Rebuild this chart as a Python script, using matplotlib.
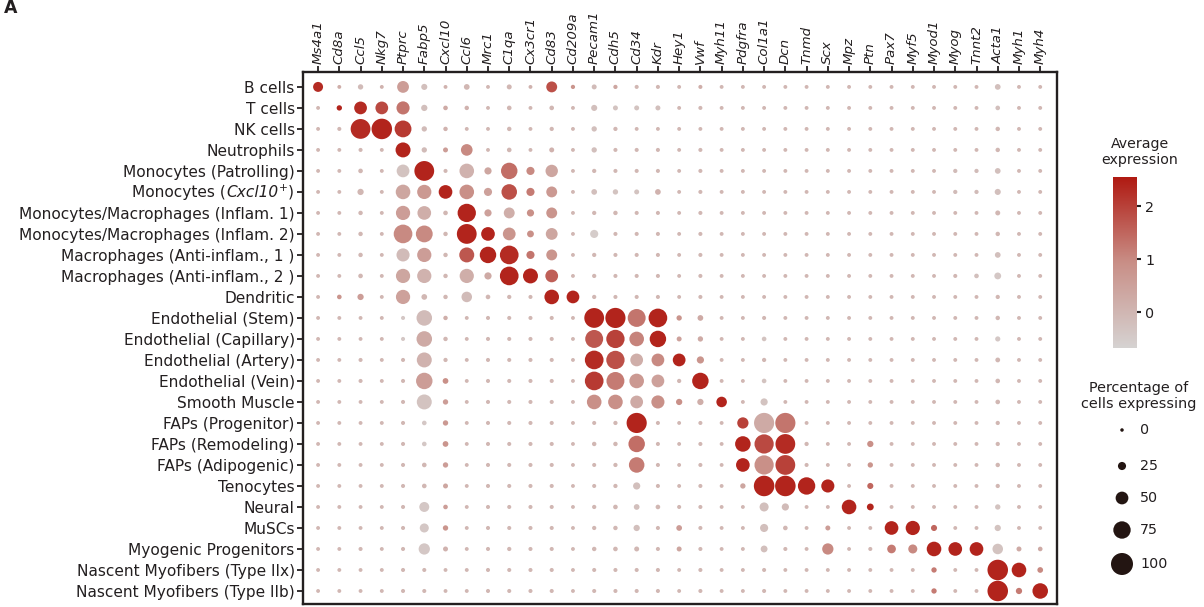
import numpy as np
import matplotlib
matplotlib.use("Agg")
import matplotlib.pyplot as plt
from matplotlib.colors import LinearSegmentedColormap, Normalize
from matplotlib.offsetbox import TextArea, HPacker, AnnotationBbox

plt.rcParams["font.family"] = ["DejaVu Sans"]
plt.rcParams["mathtext.fontset"] = "dejavusans"

genes = ["Ms4a1", "Cd8a", "Ccl5", "Nkg7", "Ptprc", "Fabp5", "Cxcl10", "Ccl6", "Mrc1",
         "C1qa", "Cx3cr1", "Cd83", "Cd209a", "Pecam1", "Cdh5", "Cd34", "Kdr", "Hey1",
         "Vwf", "Myh11", "Pdgfra", "Col1a1", "Dcn", "Tnmd", "Scx", "Mpz", "Ptn", "Pax7",
         "Myf5", "Myod1", "Myog", "Tnnt2", "Acta1", "Myh1", "Myh4"]

# the Cxcl10+ monocyte label is assembled from pieces (italic gene name, superscript +)
cell_types = ["B cells", "T cells", "NK cells", "Neutrophils", "Monocytes (Patrolling)",
              ("Monocytes (", "Cxcl10", "$^{+}$)"),
              "Monocytes/Macrophages (Inflam. 1)", "Monocytes/Macrophages (Inflam. 2)",
              "Macrophages (Anti-inflam., 1 )", "Macrophages (Anti-inflam., 2 )",
              "Dendritic", "Endothelial (Stem)", "Endothelial (Capillary)",
              "Endothelial (Artery)", "Endothelial (Vein)", "Smooth Muscle",
              "FAPs (Progenitor)", "FAPs (Remodeling)", "FAPs (Adipogenic)", "Tenocytes",
              "Neural", "MuSCs", "Myogenic Progenitors", "Nascent Myofibers (Type IIx)",
              "Nascent Myofibers (Type IIb)"]

# Percentage of cells expressing each gene (rows: cell types, columns: genes)
pct_expressing = [
    [35, 2, 10, 2, 45, 14, 2, 12, 2, 8, 2, 40, 4, 8, 4, 3, 3, 2, 3, 2, 2, 2, 2, 2, 2, 2, 2, 2, 2, 2, 2, 2, 12, 2, 2],
    [2, 10, 50, 50, 52, 15, 6, 5, 2, 6, 2, 6, 2, 14, 8, 8, 8, 2, 3, 2, 2, 2, 2, 2, 2, 2, 2, 2, 2, 2, 2, 2, 6, 2, 2],
    [2, 3, 88, 92, 72, 10, 5, 2, 2, 5, 2, 4, 2, 10, 4, 2, 2, 2, 2, 2, 2, 2, 2, 2, 2, 2, 2, 2, 2, 2, 2, 2, 5, 2, 2],
    [2, 2, 3, 2, 62, 10, 8, 44, 2, 6, 2, 8, 2, 10, 3, 3, 3, 2, 3, 2, 2, 2, 2, 2, 2, 2, 2, 2, 2, 2, 2, 2, 5, 2, 2],
    [2, 2, 6, 2, 50, 88, 3, 60, 20, 70, 25, 48, 2, 4, 3, 3, 3, 2, 3, 2, 2, 2, 2, 2, 2, 2, 2, 2, 2, 2, 4, 4, 12, 2, 2],
    [2, 2, 15, 2, 60, 58, 55, 60, 25, 65, 25, 40, 2, 12, 10, 8, 12, 2, 3, 2, 2, 2, 2, 2, 2, 2, 2, 2, 2, 2, 4, 4, 14, 2, 2],
    [2, 2, 5, 2, 58, 55, 6, 80, 20, 40, 20, 40, 2, 4, 5, 3, 3, 2, 3, 2, 2, 2, 2, 2, 2, 2, 2, 2, 2, 2, 2, 2, 8, 2, 2],
    [2, 2, 5, 2, 82, 72, 5, 88, 55, 50, 18, 45, 2, 25, 3, 3, 3, 2, 3, 2, 2, 2, 2, 2, 2, 2, 2, 2, 2, 2, 2, 2, 5, 2, 2],
    [2, 2, 5, 2, 52, 58, 5, 62, 70, 82, 25, 40, 2, 4, 3, 3, 3, 2, 3, 2, 2, 2, 2, 2, 2, 2, 2, 2, 2, 2, 2, 2, 12, 2, 2],
    [2, 2, 6, 2, 58, 58, 5, 58, 20, 82, 62, 50, 2, 4, 3, 3, 3, 2, 3, 2, 2, 2, 2, 2, 2, 2, 2, 2, 2, 2, 3, 6, 18, 2, 2],
    [2, 6, 15, 2, 58, 12, 5, 38, 6, 4, 3, 60, 50, 4, 3, 3, 3, 2, 3, 2, 2, 2, 2, 2, 2, 2, 2, 2, 2, 2, 2, 2, 4, 2, 2],
    [2, 2, 2, 2, 3, 65, 5, 2, 3, 3, 3, 3, 2, 88, 90, 78, 82, 10, 12, 2, 2, 3, 2, 2, 2, 2, 2, 2, 2, 2, 2, 2, 5, 2, 2],
    [2, 2, 2, 2, 3, 65, 5, 2, 3, 3, 3, 3, 2, 78, 80, 60, 70, 8, 10, 2, 2, 6, 2, 2, 2, 2, 2, 2, 2, 2, 2, 2, 9, 2, 2],
    [2, 2, 3, 2, 3, 62, 4, 2, 3, 3, 3, 3, 2, 82, 80, 50, 50, 50, 20, 2, 2, 4, 2, 2, 2, 2, 2, 2, 2, 2, 2, 2, 7, 2, 2],
    [2, 2, 3, 2, 3, 70, 12, 2, 3, 3, 3, 3, 2, 82, 78, 60, 50, 4, 70, 2, 2, 6, 2, 2, 2, 2, 2, 2, 2, 2, 2, 2, 6, 2, 2],
    [2, 2, 2, 2, 3, 62, 10, 2, 3, 3, 3, 3, 2, 60, 60, 50, 52, 15, 15, 38, 2, 20, 2, 2, 2, 2, 2, 2, 2, 2, 2, 2, 6, 2, 2],
    [2, 2, 2, 2, 3, 6, 10, 2, 3, 3, 3, 3, 2, 3, 4, 90, 3, 2, 3, 2, 42, 90, 90, 2, 2, 2, 2, 2, 2, 2, 2, 2, 4, 2, 2],
    [2, 2, 2, 2, 3, 6, 12, 2, 3, 3, 3, 3, 2, 5, 5, 70, 3, 2, 3, 2, 65, 85, 88, 4, 2, 2, 15, 2, 2, 2, 2, 2, 4, 2, 2],
    [2, 2, 2, 2, 3, 6, 10, 2, 3, 3, 3, 3, 2, 3, 4, 65, 3, 2, 3, 2, 55, 85, 88, 3, 2, 2, 10, 2, 2, 2, 2, 2, 5, 2, 2],
    [2, 2, 2, 2, 3, 6, 8, 2, 3, 3, 3, 3, 2, 3, 4, 20, 3, 2, 3, 2, 10, 92, 92, 75, 52, 2, 14, 2, 2, 2, 2, 2, 4, 2, 2],
    [2, 2, 2, 2, 3, 35, 6, 2, 3, 3, 3, 3, 2, 4, 6, 12, 6, 3, 3, 2, 2, 30, 20, 2, 2, 60, 18, 2, 2, 2, 2, 2, 10, 2, 2],
    [2, 2, 2, 2, 3, 30, 10, 2, 3, 3, 3, 3, 2, 4, 5, 15, 3, 12, 3, 2, 2, 25, 6, 2, 8, 2, 2, 55, 58, 14, 2, 2, 15, 2, 2],
    [2, 2, 3, 2, 3, 42, 8, 2, 3, 4, 3, 3, 2, 5, 6, 8, 3, 8, 3, 2, 2, 18, 3, 2, 42, 2, 3, 28, 30, 60, 55, 55, 38, 8, 6],
    [2, 2, 2, 2, 3, 3, 2, 2, 3, 3, 3, 3, 2, 3, 3, 3, 3, 2, 3, 2, 2, 3, 2, 2, 2, 2, 2, 2, 2, 10, 2, 2, 92, 60, 12],
    [2, 2, 2, 2, 3, 3, 2, 2, 3, 3, 3, 3, 2, 3, 3, 3, 3, 2, 3, 2, 2, 3, 2, 2, 2, 2, 2, 2, 2, 10, 2, 2, 92, 15, 65],
]

# Scaled average expression (same layout)
avg_expression = [
    [2.3, 0.2, -0.1, 0.1, 0.6, -0.2, 0.1, 0.0, 0.0, 0.0, 0.1, 1.8, 0.8, -0.1, 0.4, 0.0, 0.0, 0.0, 0.2, 0.0, 0.0, 0.0, 0.0, 0.0, 0.0, 0.0, 0.0, 0.0, 0.0, 0.0, 0.0, 0.0, -0.2, 0.0, 0.0],
    [0.0, 2.4, 2.3, 1.9, 1.3, -0.2, 0.3, 0.1, 0.0, 0.0, 0.0, 0.0, 0.0, -0.2, -0.3, -0.3, -0.2, 0.0, 0.0, 0.0, 0.0, 0.0, 0.0, 0.0, 0.0, 0.0, 0.0, 0.0, 0.0, 0.0, 0.0, 0.0, -0.2, 0.0, 0.0],
    [0.0, 0.0, 2.3, 2.4, 2.1, -0.1, 0.1, 0.0, 0.0, 0.0, 0.0, 0.0, 0.0, -0.2, 0.0, 0.0, 0.0, 0.0, 0.0, 0.0, 0.0, 0.0, 0.0, 0.0, 0.0, 0.0, 0.0, 0.0, 0.0, 0.0, 0.0, 0.0, 0.0, 0.0, 0.0],
    [0.0, 0.0, 0.0, 0.0, 2.4, -0.1, 0.6, 1.0, 0.0, 0.0, 0.0, 0.1, 0.0, -0.2, 0.0, 0.0, 0.0, 0.0, 0.0, 0.0, 0.0, 0.0, 0.0, 0.0, 0.0, 0.0, 0.0, 0.0, 0.0, 0.0, 0.0, 0.0, 0.0, 0.0, 0.0],
    [0.0, 0.0, 0.0, 0.0, -0.3, 2.4, 0.0, 0.1, 0.4, 1.4, 1.0, 0.4, 0.0, 0.0, 0.0, 0.0, 0.0, 0.0, 0.0, 0.0, 0.0, 0.0, 0.0, 0.0, 0.0, 0.0, 0.0, 0.0, 0.0, 0.0, -0.1, -0.1, -0.2, 0.0, 0.0],
    [0.0, 0.0, 0.0, 0.0, 0.4, 0.7, 2.4, 0.9, 0.5, 1.8, 1.2, 0.7, 0.0, -0.2, -0.3, -0.3, 0.1, 0.0, 0.0, 0.0, 0.0, 0.0, 0.0, 0.0, 0.0, 0.0, 0.0, 0.0, 0.0, 0.0, -0.1, -0.1, -0.2, 0.0, 0.0],
    [0.0, 0.0, 0.0, 0.0, 0.6, 0.2, 0.0, 2.4, 0.5, 0.2, 0.9, 0.8, 0.0, 0.0, 0.0, 0.0, 0.0, 0.0, 0.0, 0.0, 0.0, 0.0, 0.0, 0.0, 0.0, 0.0, 0.0, 0.0, 0.0, 0.0, 0.0, 0.0, 0.0, 0.0, 0.0],
    [0.0, 0.0, 0.0, 0.0, 1.0, 1.0, 0.0, 2.4, 2.4, 0.8, 0.9, 0.4, 0.0, -0.5, 0.0, 0.0, 0.0, 0.0, 0.0, 0.0, 0.0, 0.0, 0.0, 0.0, 0.0, 0.0, 0.0, 0.0, 0.0, 0.0, 0.0, 0.0, 0.0, 0.0, 0.0],
    [0.0, 0.0, 0.0, 0.0, -0.1, 0.6, 0.0, 1.7, 2.4, 2.3, 1.3, 0.8, 0.0, 0.0, 0.0, 0.0, 0.0, 0.0, 0.0, 0.0, 0.0, 0.0, 0.0, 0.0, 0.0, 0.0, 0.0, 0.0, 0.0, 0.0, 0.0, 0.0, -0.2, 0.0, 0.0],
    [0.0, 0.0, 0.0, 0.0, 0.4, 0.1, 0.0, 0.2, 0.3, 2.4, 2.4, 1.6, 0.0, 0.0, 0.0, 0.0, 0.0, 0.0, 0.0, 0.0, 0.0, 0.0, 0.0, 0.0, 0.0, 0.0, 0.0, 0.0, 0.0, 0.0, 0.0, -0.2, -0.4, 0.0, 0.0],
    [0.0, 0.8, 0.6, 0.0, 0.5, 0.0, 0.0, -0.1, 0.0, 0.0, 0.0, 2.4, 2.4, 0.0, 0.0, 0.0, 0.0, 0.0, 0.0, 0.0, 0.0, 0.0, 0.0, 0.0, 0.0, 0.0, 0.0, 0.0, 0.0, 0.0, 0.0, 0.0, 0.0, 0.0, 0.0],
    [0.0, 0.0, 0.0, 0.0, -0.4, -0.1, 0.2, 0.0, 0.0, 0.0, 0.0, 0.0, 0.0, 2.4, 2.4, 1.3, 2.4, 0.8, 0.3, 0.0, 0.0, 0.0, 0.0, 0.0, 0.0, 0.0, 0.0, 0.0, 0.0, 0.0, 0.0, 0.0, 0.0, 0.0, 0.0],
    [0.0, 0.0, 0.0, 0.0, -0.4, 0.3, 0.0, 0.0, 0.0, 0.0, 0.0, 0.0, 0.0, 1.7, 2.0, 1.1, 2.4, 0.5, 0.3, 0.0, 0.0, -0.3, 0.0, 0.0, 0.0, 0.0, 0.0, 0.0, 0.0, 0.0, 0.0, 0.0, -0.4, 0.0, 0.0],
    [0.0, 0.0, 0.0, 0.0, 0.0, 0.1, 0.0, 0.0, 0.0, 0.0, 0.0, 0.0, 0.0, 2.3, 1.8, 0.2, 1.0, 2.4, 0.8, 0.0, 0.0, 0.0, 0.0, 0.0, 0.0, 0.0, 0.0, 0.0, 0.0, 0.0, 0.0, 0.0, 0.0, 0.0, 0.0],
    [0.0, 0.0, 0.0, 0.0, 0.0, 0.6, 0.9, 0.0, 0.0, 0.0, 0.0, 0.0, 0.0, 2.1, 1.2, 0.7, 0.5, 0.0, 2.4, 0.0, 0.0, -0.3, 0.0, 0.0, 0.0, 0.0, 0.0, 0.0, 0.0, 0.0, 0.0, 0.0, 0.0, 0.0, 0.0],
    [0.0, 0.0, 0.0, 0.0, 0.0, -0.3, 0.6, 0.0, 0.0, 0.0, 0.0, 0.0, 0.0, 0.9, 0.9, 0.3, 0.9, 0.9, 0.2, 2.4, 0.0, -0.3, 0.0, 0.0, 0.0, 0.0, 0.0, 0.0, 0.0, 0.0, 0.0, 0.0, 0.0, 0.0, 0.0],
    [0.0, 0.0, 0.0, 0.0, 0.0, -0.4, 0.7, 0.0, 0.0, 0.0, 0.0, 0.0, 0.0, 0.0, 0.0, 2.4, 0.0, 0.0, 0.0, 0.0, 2.0, 0.3, 1.3, 0.0, 0.0, 0.0, 0.0, 0.0, 0.0, 0.0, 0.0, 0.0, 0.0, 0.0, 0.0],
    [0.0, 0.0, 0.0, 0.0, 0.0, -0.4, 0.8, 0.0, 0.0, 0.0, 0.0, 0.0, 0.0, 0.0, 0.0, 1.4, 0.0, 0.0, 0.0, 0.0, 2.4, 1.9, 2.3, 0.0, 0.0, 0.0, 0.9, 0.0, 0.0, 0.0, 0.0, 0.0, 0.0, 0.0, 0.0],
    [0.0, 0.0, 0.0, 0.0, 0.0, 0.0, 0.6, 0.0, 0.0, 0.0, 0.0, 0.0, 0.0, 0.0, 0.0, 1.2, 0.0, 0.0, 0.0, 0.0, 2.4, 0.9, 2.0, 0.0, 0.0, 0.0, 0.8, 0.0, 0.0, 0.0, 0.0, 0.0, 0.0, 0.0, 0.0],
    [0.0, 0.0, 0.0, 0.0, 0.0, 0.0, 0.4, 0.0, 0.0, 0.0, 0.0, 0.0, 0.0, 0.0, 0.0, -0.2, 0.0, 0.0, 0.0, 0.0, 0.4, 2.4, 2.4, 2.4, 2.4, 0.0, 1.5, 0.0, 0.0, 0.0, 0.0, 0.0, 0.0, 0.0, 0.0],
    [0.0, 0.0, 0.0, 0.0, 0.0, -0.4, 0.6, 0.0, 0.0, 0.0, 0.0, 0.0, 0.0, 0.0, 0.0, -0.2, 0.0, 0.0, 0.0, 0.0, 0.0, -0.2, -0.1, 0.0, 0.0, 2.4, 2.4, 0.0, 0.0, 0.0, 0.0, 0.0, -0.3, 0.0, 0.0],
    [0.0, 0.0, 0.0, 0.0, 0.0, -0.4, 0.8, 0.0, 0.0, 0.0, 0.0, 0.0, 0.0, 0.0, 0.0, -0.2, 0.0, 0.6, 0.0, 0.0, 0.0, -0.2, 0.0, 0.0, 0.6, 0.0, 0.0, 2.4, 2.4, 1.5, 0.0, 0.0, -0.3, 0.0, 0.0],
    [0.0, 0.0, 0.0, 0.0, 0.0, -0.4, 0.1, 0.0, 0.0, 0.0, 0.0, 0.0, 0.0, 0.0, 0.0, 0.0, 0.0, 0.4, 0.0, 0.0, 0.0, -0.2, 0.0, 0.0, 1.0, 0.0, 0.0, 1.2, 1.0, 2.4, 2.4, 2.4, -0.3, 0.3, 0.3],
    [0.0, 0.0, 0.0, 0.0, 0.0, 0.0, 0.0, 0.0, 0.0, 0.0, 0.0, 0.0, 0.0, 0.0, 0.0, 0.0, 0.0, 0.0, 0.0, 0.0, 0.0, 0.0, 0.0, 0.0, 0.0, 0.0, 0.0, 0.0, 0.0, 1.2, 0.0, 0.0, 2.4, 2.4, 1.0],
    [0.0, 0.0, 0.0, 0.0, 0.0, 0.0, 0.0, 0.0, 0.0, 0.0, 0.0, 0.0, 0.0, 0.0, 0.0, 0.0, 0.0, 0.0, 0.0, 0.0, 0.0, 0.0, 0.0, 0.0, 0.0, 0.0, 0.0, 0.0, 0.0, 1.2, 0.0, 0.0, 2.4, 1.2, 2.4],
]

color_ticks = [0, 1, 2]
size_legend_values = [0, 25, 50, 75, 100]

# ---- styling ----
W, H, DPI = 1204, 607, 100
TXT = "#231f20"
LABEL_SIZE = 11.1
TICK_LEN, TICK_PAD = 4, 2
cmap = LinearSegmentedColormap.from_list("expr", ["#d6d3d2", "#c98f87", "#b01a12"])
norm = Normalize(vmin=-0.68, vmax=2.55)


def dot_area(p):
    diam_px = 3.5 + 0.185 * np.asarray(p, dtype=float)
    return (diam_px * 72.0 / DPI) ** 2


fig = plt.figure(figsize=(W / DPI, H / DPI), dpi=DPI)
fig.patch.set_facecolor("white")

ax = fig.add_axes([303 / W, 1 - 604 / H, 754 / W, 532 / H])
pct = np.array(pct_expressing, dtype=float)
expr = np.array(avg_expression, dtype=float)
yy, xx = np.meshgrid(np.arange(len(cell_types)), np.arange(len(genes)), indexing="ij")
ax.scatter(xx.ravel(), yy.ravel(), s=dot_area(pct.ravel()), c=expr.ravel(),
           cmap=cmap, norm=norm, linewidths=0, zorder=3)

ax.set_xlim(-0.71, 34.79)
ax.set_ylim(24.62, -0.71)
ax.set_xticks(range(len(genes)))
ax.set_xticklabels(genes, rotation=90, fontstyle="italic", fontsize=9.6, color=TXT)
ax.xaxis.tick_top()
ax.set_yticks(range(len(cell_types)))
ax.set_yticklabels([c if isinstance(c, str) else "" for c in cell_types],
                   fontsize=LABEL_SIZE, color=TXT)
ax.tick_params(axis="both", direction="out", length=TICK_LEN, width=1.3, color=TXT,
               pad=TICK_PAD)
for sp in ax.spines.values():
    sp.set_linewidth(1.7)
    sp.set_color(TXT)

# composite label with italic gene name
for i, c in enumerate(cell_types):
    if isinstance(c, str):
        continue
    pre, gene, post = c
    parts = [TextArea(pre, textprops=dict(fontsize=LABEL_SIZE, color=TXT)),
             TextArea(gene, textprops=dict(fontsize=LABEL_SIZE, color=TXT, fontstyle="italic")),
             TextArea(post, textprops=dict(fontsize=LABEL_SIZE, color=TXT))]
    box = HPacker(children=parts, align="baseline", pad=0, sep=0)
    ab = AnnotationBbox(box, (0, i), xycoords=ax.get_yaxis_transform(),
                        xybox=(-(TICK_LEN + TICK_PAD), 0), boxcoords="offset points",
                        box_alignment=(1, 0.5), frameon=False, pad=0,
                        annotation_clip=False)
    ax.add_artist(ab)

# colour bar
cax = fig.add_axes([1113 / W, 1 - 348 / H, 24 / W, 171 / H])
grad = np.linspace(norm.vmin, norm.vmax, 256).reshape(-1, 1)
cax.imshow(grad, aspect="auto", cmap=cmap, norm=norm, origin="lower",
           extent=[0, 1, norm.vmin, norm.vmax])
cax.set_xticks([])
cax.yaxis.tick_right()
cax.set_yticks(color_ticks)
cax.set_yticklabels([str(t) for t in color_ticks], fontsize=10.3, color=TXT)
cax.tick_params(axis="y", direction="out", length=3, width=1.5, color=TXT, pad=3)
for sp in cax.spines.values():
    sp.set_visible(False)

# overlay in pixel coordinates for legend text and size key
ov = fig.add_axes([0, 0, 1, 1])
ov.set_xlim(0, W)
ov.set_ylim(H, 0)
ov.axis("off")
ov.text(4, 8, "A", fontsize=12.5, fontweight="bold", color=TXT, va="center", ha="left")
ov.text(1140, 152, "Average\nexpression", fontsize=10.2, color=TXT, ha="center",
        va="center", linespacing=1.1)
ov.text(1139, 396, "Percentage of\ncells expressing", fontsize=10.4, color=TXT,
        ha="center", va="center", linespacing=1.1)
key_y = [430, 466, 498, 530, 564]
ov.scatter([1122] * len(size_legend_values), key_y, s=dot_area(size_legend_values),
           color="#231512", linewidths=0)
for v, y in zip(size_legend_values, key_y):
    ov.text(1140, y, str(v), fontsize=10.3, color=TXT, ha="left", va="center")

fig.savefig("out.png", dpi=DPI, facecolor="white")
